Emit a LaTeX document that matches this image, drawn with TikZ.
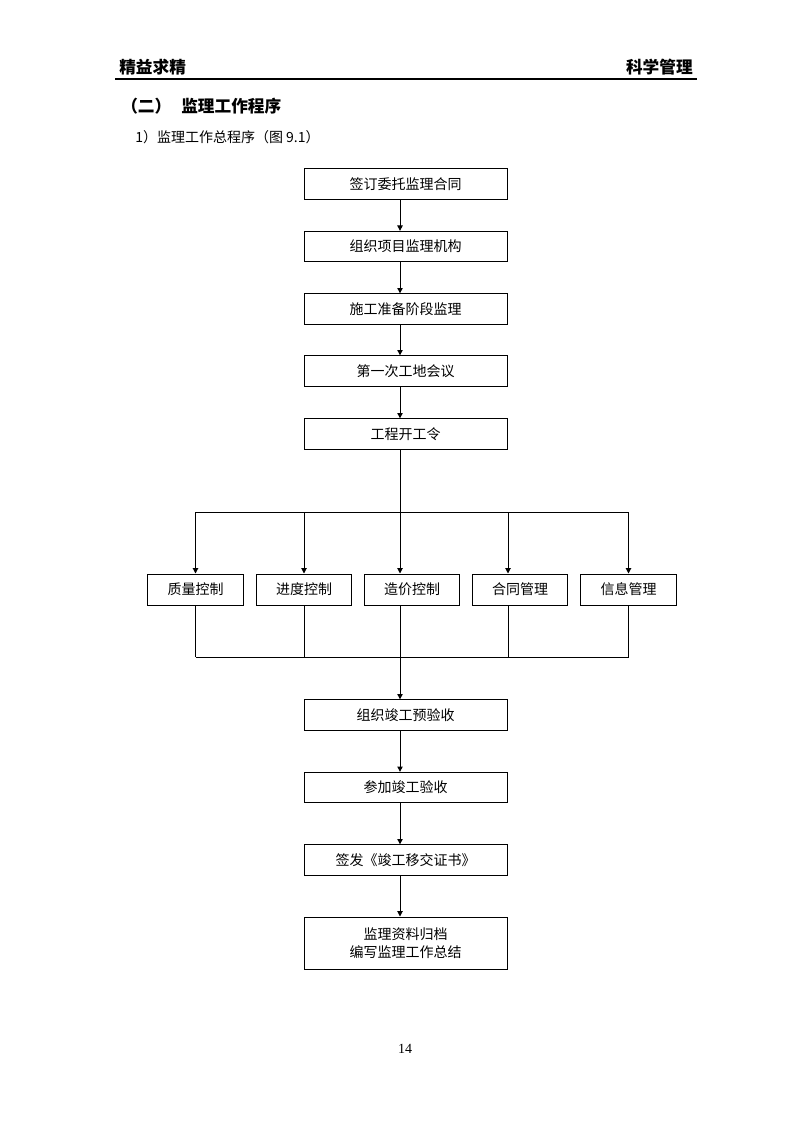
\documentclass[tikz,border=0pt]{standalone}
\usepackage{fontspec}
\setmainfont{Liberation Serif}
\newfontfamily\cjk{Noto Sans CJK SC}
\usetikzlibrary{arrows.meta}
\tikzset{
  box/.style={draw, line width=0.75pt, minimum width=152.25pt, minimum height=22.75pt, inner sep=0pt, font=\cjk\fontsize{10.5}{13}\selectfont, align=center},
  sbox/.style={draw, line width=0.75pt, minimum width=71.5pt, minimum height=23.25pt, inner sep=0pt, font=\cjk\fontsize{10.5}{13}\selectfont},
  conn/.style={line width=0.75pt},
  arr/.style={line width=0.75pt, -{Triangle[length=4pt,width=4pt]}},
}
\begin{document}
\begin{tikzpicture}[x=0.75pt,y=-0.75pt]
\useasboundingbox (0,0) rectangle (794,1123);
% header
\node[anchor=west, inner sep=0pt, font=\cjk\bfseries\fontsize{12.5}{14}\selectfont] (hl) at (119,67) {精益求精};
\node[anchor=east, inner sep=0pt, font=\cjk\bfseries\fontsize{12.5}{14}\selectfont] (hr) at (693,67) {科学管理};
\draw[line width=1.1pt] (115,79) -- (697,79);
% titles
\node[anchor=west, inner sep=0pt, font=\cjk\bfseries\fontsize{12.5}{14}\selectfont] (t1) at (121,106) {（二）\hspace{0.6em}监理工作程序};
\node[anchor=west, inner sep=0pt, font=\cjk\fontsize{10.5}{13}\selectfont] (t2) at (135,137) {1）监理工作总程序（图 9.1）};
% main column
\node[box] (b1) at (405.5,184) {签订委托监理合同};
\node[box] (b2) at (405.5,246.5) {组织项目监理机构};
\node[box] (b3) at (405.5,309) {施工准备阶段监理};
\node[box] (b4) at (405.5,371) {第一次工地会议};
\node[box] (b5) at (405.5,434) {工程开工令};
\node[sbox] (q) at (195.5,589.5) {质量控制};
\node[sbox] (j) at (304,589.5) {进度控制};
\node[sbox] (z) at (412,589.5) {造价控制};
\node[sbox] (h) at (520,589.5) {合同管理};
\node[sbox] (x) at (628.5,589.5) {信息管理};
\node[box] (c1) at (405.5,715) {组织竣工预验收};
\node[box] (c2) at (405.5,787.5) {参加竣工验收};
\node[box] (c3) at (405.5,860) {签发《竣工移交证书》};
\node[box, minimum height=39pt, font=\cjk\fontsize{10.5}{13.5}\selectfont] (c4) at (405.5,943) {监理资料归档\\编写监理工作总结};
% helper coordinates
\coordinate (ax) at (400,0);
\coordinate (hx) at (508,0);
\coordinate (split) at (400,512);
\coordinate (join) at (400,657);
% connectors
\draw[arr] (b1.south -| ax) -- (b2.north -| ax);
\draw[arr] (b2.south -| ax) -- (b3.north -| ax);
\draw[arr] (b3.south -| ax) -- (b4.north -| ax);
\draw[arr] (b4.south -| ax) -- (b5.north -| ax);
\draw[conn] (b5.south -| ax) -- (split);
\draw[conn] (split -| q) -- (split -| x);
\draw[arr] (split -| q) -- (q.north);
\draw[arr] (split -| j) -- (j.north);
\draw[arr] (split) -- (z.north -| ax);
\draw[arr] (split -| hx) -- (h.north -| hx);
\draw[arr] (split -| x) -- (x.north);
\draw[conn] (q.south) -- (join -| q);
\draw[conn] (j.south) -- (join -| j);
\draw[conn] (z.south -| ax) -- (join);
\draw[conn] (h.south -| hx) -- (join -| hx);
\draw[conn] (x.south) -- (join -| x);
\draw[conn] (join -| q) -- (join -| x);
\draw[arr] (join) -- (c1.north -| ax);
\draw[arr] (c1.south -| ax) -- (c2.north -| ax);
\draw[arr] (c2.south -| ax) -- (c3.north -| ax);
\draw[arr] (c3.south -| ax) -- (c4.north -| ax);
% page number
\node[font=\fontsize{10.5}{12}\selectfont, inner sep=0pt] (pn) at (405,1049) {14};
\end{tikzpicture}
\end{document}
